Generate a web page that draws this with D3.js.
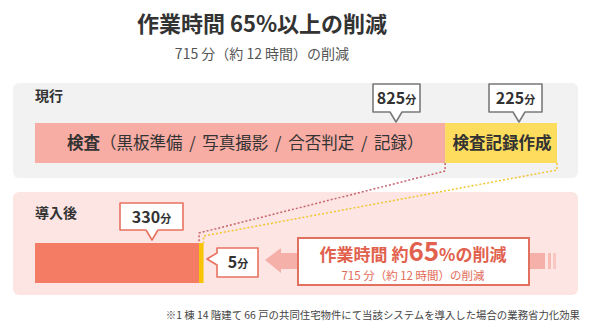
<!DOCTYPE html>
<html>
<head>
<meta charset="utf-8">
<script src="https://cdn.jsdelivr.net/npm/d3@7"></script>
<style>
  html, body { margin: 0; padding: 0; background: #fff; }
  svg { display: block; font-family: "Noto Sans CJK JP", "Noto Sans", sans-serif; }
</style>
</head>
<body>
<svg id="chart" width="590" height="330"></svg>
<script>
// Inspection workload, minutes per building
const stages = ["現行", "導入後"];
const tasks = ["検査（黒板準備 / 写真撮影 / 合否判定 / 記録）", "検査記録作成"];
const currentMinutes = [825, 225];
const afterMinutes = [330, 5];
const savedMinutes = 715;
const savedHours = 12;
const savedPercent = 65;
const unit = "分";

const svg = d3.select("#chart");
const total = d3.sum(currentMinutes);
const x = d3.scaleLinear().domain([0, total]).range([35, 557]);

const pink = "#f7aca4", yellow = "#fddc5e";
const coral = "#f47b64", gold = "#f8c300";
const red = "#e1614e";

// Title block
svg.append("text").attr("x", 262).attr("y", 32).attr("text-anchor", "middle")
  .attr("font-size", 22).attr("font-weight", 700).attr("fill", "#333")
  .text(`作業時間 ${savedPercent}%以上の削減`);
svg.append("text").attr("x", 262).attr("y", 59).attr("text-anchor", "middle")
  .attr("font-size", 14).attr("fill", "#555")
  .text(`${savedMinutes} 分（約 ${savedHours} 時間）の削減`);

// Panels
svg.append("rect").attr("x", 13).attr("y", 83).attr("width", 565).attr("height", 95)
  .attr("rx", 6).attr("fill", "#f2f2f2");
svg.append("rect").attr("x", 13).attr("y", 192).attr("width", 565).attr("height", 103)
  .attr("rx", 6).attr("fill", "#fce5e3");

svg.append("text").attr("x", 35).attr("y", 101).attr("font-size", 14)
  .attr("font-weight", 700).attr("fill", "#333").text(stages[0]);
svg.append("text").attr("x", 35).attr("y", 218).attr("font-size", 14)
  .attr("font-weight", 700).attr("fill", "#333").text(stages[1]);

// Stacked bars
const stack = v => v.map((d, i) => ({ v: d, x0: d3.sum(v.slice(0, i)), x1: d3.sum(v.slice(0, i + 1)) }));
const cur = stack(currentMinutes);
const aft = stack(afterMinutes);

// Connector lines between the two bars
const conn = svg.append("g").attr("fill", "none").attr("stroke-width", 1.5).attr("stroke-dasharray", "2,2");
conn.append("path").attr("stroke", "#c8646c")
  .attr("d", d3.line()([[x(cur[0].x1), 163], [x(cur[0].x1), 171], [x(aft[0].x1), 233], [x(aft[0].x1), 243]]));
conn.append("path").attr("stroke", "#f2c531")
  .attr("d", d3.line()([[x(cur[1].x1), 163], [x(cur[1].x1), 170], [x(aft[1].x1) + 2, 236], [x(aft[1].x1) + 2, 243]]));

svg.append("g").selectAll("rect").data(cur).join("rect")
  .attr("x", d => x(d.x0)).attr("width", d => x(d.x1) - x(d.x0))
  .attr("y", 123).attr("height", 40).attr("fill", (d, i) => i ? yellow : pink);

svg.append("g").selectAll("rect").data(aft).join("rect")
  .attr("x", d => x(d.x0)).attr("width", d => x(d.x1) - x(d.x0) + (d.v < 10 ? 2 : 0))
  .attr("y", 243).attr("height", 40).attr("fill", (d, i) => i ? gold : coral);

// Bar labels
const t0 = svg.append("text").attr("x", x(cur[0].x0) + 32).attr("y", 149)
  .attr("font-size", 16.5).attr("word-spacing", 3).attr("fill", "#333");
t0.append("tspan").attr("font-weight", 700).text(tasks[0].slice(0, 2));
t0.append("tspan").text(tasks[0].slice(2));
svg.append("text").attr("x", (x(cur[1].x0) + x(cur[1].x1)) / 2 + 1).attr("y", 149)
  .attr("text-anchor", "middle").attr("font-size", 16.5).attr("font-weight", 700)
  .attr("fill", "#333").text(tasks[1]);

// Callout boxes
function calloutDown(cx, x0, x1, y0, y1, tip, stroke, value) {
  const p = d3.path();
  p.moveTo(x0, y0); p.lineTo(x1, y0); p.lineTo(x1, y1);
  p.lineTo(cx + 6, y1); p.lineTo(cx, tip); p.lineTo(cx - 6, y1);
  p.lineTo(x0, y1); p.closePath();
  svg.append("path").attr("d", p.toString()).attr("fill", "#fff")
    .attr("stroke", stroke).attr("stroke-width", 1.6).attr("stroke-linejoin", "round");
  valueText((x0 + x1) / 2, (y0 + y1) / 2 + 6, value);
}
function valueText(cx, y, value) {
  const t = svg.append("text").attr("x", cx).attr("y", y).attr("text-anchor", "middle")
    .attr("font-weight", 700).attr("fill", "#333");
  t.append("tspan").attr("font-size", 16).text(value);
  t.append("tspan").attr("font-size", 11).text(unit);
}

calloutDown(396, 373, 420, 84, 112, 122, "#7a7a7a", currentMinutes[0]);
calloutDown(519, 489, 542, 84, 112, 122, "#7a7a7a", currentMinutes[1]);
calloutDown(152, 120, 183, 203, 230, 240, "#e8725f", afterMinutes[0]);

// Left-pointing callout for the small segment
{
  const p = d3.path();
  p.moveTo(217, 248); p.lineTo(258, 248); p.lineTo(258, 277); p.lineTo(217, 277);
  p.lineTo(217, 265); p.lineTo(207, 259); p.lineTo(217, 253); p.closePath();
  svg.append("path").attr("d", p.toString()).attr("fill", "#fff")
    .attr("stroke", "#e8725f").attr("stroke-width", 1.6).attr("stroke-linejoin", "round");
  valueText(238, 268, afterMinutes[1]);
}

// Reduction arrow
const arrow = svg.append("g").attr("fill", "#f5b1a9");
arrow.append("path").attr("d", d3.line()([[265, 260], [281, 248], [281, 253], [545, 253], [545, 269], [281, 269], [281, 273]]) + "Z");
arrow.append("rect").attr("x", 548).attr("y", 253).attr("width", 3).attr("height", 16).attr("opacity", 0.8);
arrow.append("rect").attr("x", 553).attr("y", 253).attr("width", 3).attr("height", 16).attr("opacity", 0.55);

svg.append("rect").attr("x", 298).attr("y", 238).attr("width", 231).attr("height", 47)
  .attr("fill", "#fff").attr("stroke", "#e2705e").attr("stroke-width", 2);
const big = svg.append("text").attr("x", 413).attr("y", 261).attr("text-anchor", "middle")
  .attr("fill", red).attr("font-weight", 700).attr("font-size", 17);
big.append("tspan").text("作業時間 約");
big.append("tspan").attr("font-size", 26).text(savedPercent);
big.append("tspan").text("%の削減");
svg.append("text").attr("x", 413).attr("y", 280).attr("text-anchor", "middle")
  .attr("fill", "#e36a57").attr("font-size", 11.5)
  .text(`${savedMinutes} 分（約 ${savedHours} 時間）の削減`);

// Footnote
svg.append("text").attr("x", 580).attr("y", 319).attr("text-anchor", "end")
  .attr("font-size", 10.4).attr("fill", "#444")
  .text("※1 棟 14 階建て 66 戸の共同住宅物件にて当該システムを導入した場合の業務省力化効果");
</script>
</body>
</html>
